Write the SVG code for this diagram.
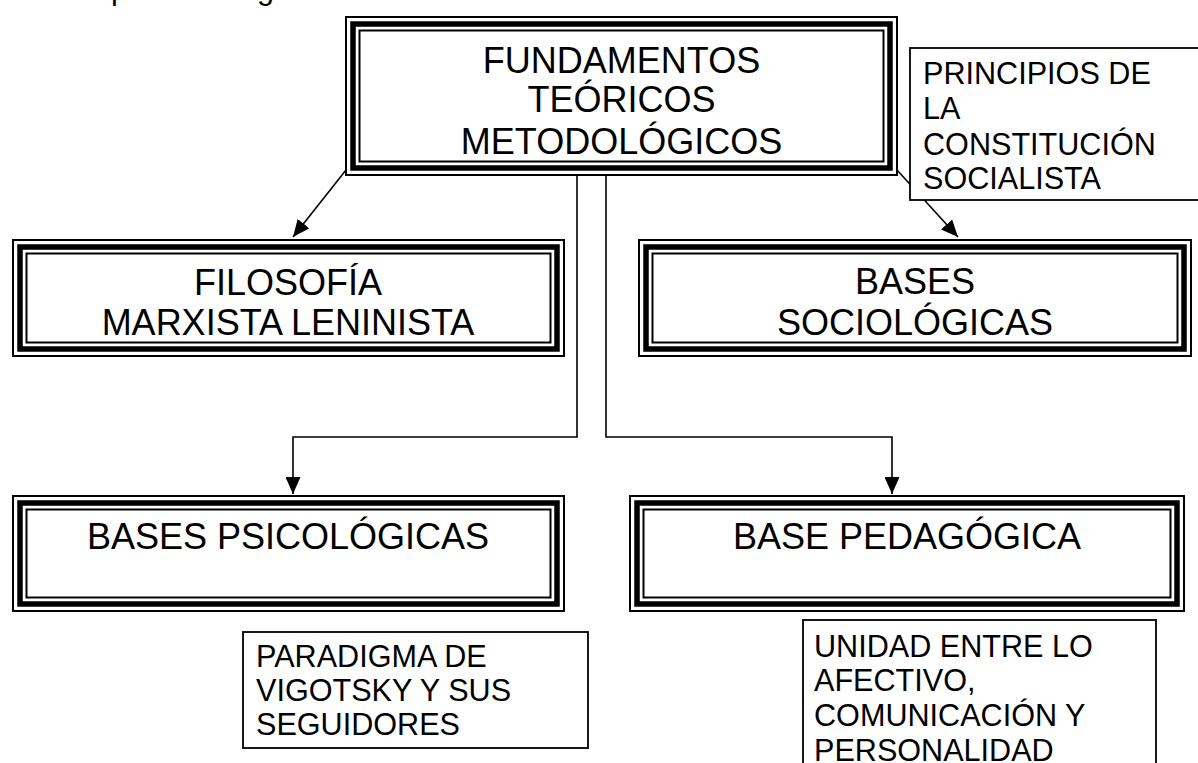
<svg xmlns="http://www.w3.org/2000/svg" width="1198" height="763" viewBox="0 0 1198 763">
<style>
  .f { fill: none; stroke: #000; }
  .o { stroke-width: 2; }
  .t { stroke-width: 5.5; }
  .i { stroke-width: 2; }
  .big { font-family: "Liberation Sans", Arial, sans-serif; font-size: 36px; fill: #000; text-anchor: middle; }
  .sm { font-family: "Liberation Sans", Arial, sans-serif; font-size: 30.6px; fill: #000; }
  .plain { fill: #fff; stroke: #000; stroke-width: 1.8; }
  .con { fill: none; stroke: #000; stroke-width: 1.6; }
</style>
<defs>
  <marker id="ah" markerUnits="userSpaceOnUse" markerWidth="17" markerHeight="15" refX="17" refY="7.5" orient="auto">
    <path d="M0,0 L17,7.5 L0,15 z" fill="#000"/>
  </marker>
</defs>
<rect width="1198" height="763" fill="#fff"/>

<g id="caption-fragment">
  <text class="sm" x="111" y="-1.5">p</text>
  <text class="sm" x="257" y="-1.5">g</text>
</g>

<g id="connectors">
  <line class="con" x1="346" y1="170" x2="293" y2="237" marker-end="url(#ah)"/>
  <line class="con" x1="897" y1="170" x2="958" y2="237" marker-end="url(#ah)"/>
  <path class="con" d="M577,172 V437 H293 V494" marker-end="url(#ah)"/>
  <path class="con" d="M606,172 V437 H892 V494" marker-end="url(#ah)"/>
</g>

<g id="fundamentos">
  <rect x="345" y="16" width="553" height="160" fill="#fff"/>
  <rect class="f o" x="346" y="17" width="551" height="158"/>
  <rect class="f t" x="353" y="24" width="537" height="144"/>
  <rect class="f i" x="359.5" y="30.5" width="524" height="131"/>
  <text class="big" x="621.5" y="73">FUNDAMENTOS</text>
  <text class="big" x="621.5" y="112">TEÓRICOS</text>
  <text class="big" x="621.5" y="154">METODOLÓGICOS</text>
</g>

<g id="principios">
  <rect class="plain" x="910" y="48" width="300" height="152"/>
  <text class="sm" x="923" y="84">PRINCIPIOS DE</text>
  <text class="sm" x="923" y="119">LA</text>
  <text class="sm" x="923" y="155">CONSTITUCIÓN</text>
  <text class="sm" x="923" y="189">SOCIALISTA</text>
</g>

<g id="filosofia">
  <rect x="12" y="239" width="553" height="118" fill="#fff"/>
  <rect class="f o" x="13" y="240" width="551" height="116"/>
  <rect class="f t" x="20" y="247" width="537" height="102"/>
  <rect class="f i" x="26.5" y="253.5" width="524" height="89"/>
  <text class="big" x="288" y="295">FILOSOFÍA</text>
  <text class="big" x="288" y="335">MARXISTA LENINISTA</text>
</g>

<g id="sociologicas">
  <rect x="638" y="239" width="554" height="118" fill="#fff"/>
  <rect class="f o" x="639" y="240" width="552" height="116"/>
  <rect class="f t" x="646" y="247" width="538" height="102"/>
  <rect class="f i" x="652.5" y="253.5" width="525" height="89"/>
  <text class="big" x="915" y="294">BASES</text>
  <text class="big" x="915" y="335">SOCIOLÓGICAS</text>
</g>

<g id="psicologicas">
  <rect x="12" y="495" width="553" height="117" fill="#fff"/>
  <rect class="f o" x="13" y="496" width="551" height="115"/>
  <rect class="f t" x="20" y="503" width="537" height="101"/>
  <rect class="f i" x="26.5" y="509.5" width="524" height="88"/>
  <text class="big" x="288" y="549">BASES PSICOLÓGICAS</text>
</g>

<g id="pedagogica">
  <rect x="629" y="495" width="556" height="117" fill="#fff"/>
  <rect class="f o" x="630" y="496" width="554" height="115"/>
  <rect class="f t" x="637" y="503" width="540" height="101"/>
  <rect class="f i" x="643.5" y="509.5" width="527" height="88"/>
  <text class="big" x="907" y="549">BASE PEDAGÓGICA</text>
</g>

<g id="paradigma">
  <rect class="plain" x="243" y="632" width="345" height="116"/>
  <text class="sm" x="256" y="667">PARADIGMA DE</text>
  <text class="sm" x="256" y="701">VIGOTSKY Y SUS</text>
  <text class="sm" x="256" y="735">SEGUIDORES</text>
</g>

<g id="unidad">
  <rect class="plain" x="803" y="620" width="353" height="170"/>
  <text class="sm" x="814" y="657">UNIDAD ENTRE LO</text>
  <text class="sm" x="814" y="691">AFECTIVO,</text>
  <text class="sm" x="814" y="726">COMUNICACIÓN Y</text>
  <text class="sm" x="814" y="761">PERSONALIDAD</text>
</g>
</svg>
